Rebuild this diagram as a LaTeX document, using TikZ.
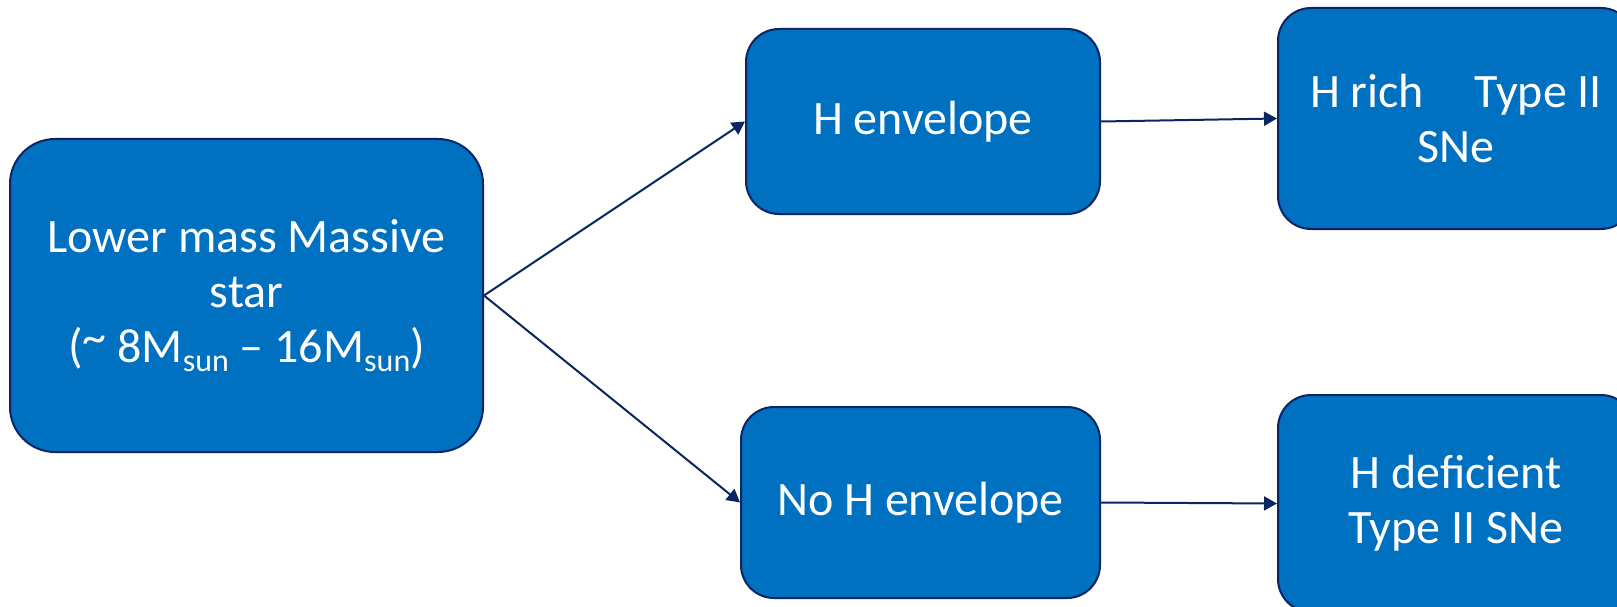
\documentclass[tikz,border=0pt]{standalone}
\usepackage{fontspec}
\setmainfont{Carlito}
\usetikzlibrary{arrows.meta}
\definecolor{boxfill}{RGB}{0,112,192}
\definecolor{navy}{RGB}{10,38,98}
\newcommand{\subsun}{\raisebox{-9pt}{\fontsize{32}{32}\selectfont sun}}
\newcommand{\hightilde}{\raisebox{9pt}{\textasciitilde}}
\begin{document}
\begin{tikzpicture}[x=1pt,y=-1pt,
  stagebox/.style={draw=navy, line width=2pt, fill=boxfill, text=white,
    rectangle, rounded corners=33pt, inner sep=0pt, align=center,
    font=\fontsize{48}{55}\selectfont},
  flow/.style={draw=navy, line width=2pt,
    -{Triangle[length=13pt,width=14pt]}}]
\useasboundingbox (0,0) rectangle (1617,607);
\fill[white] (0,0) rectangle (1617,607);

% progenitor
\node[stagebox, rounded corners=45pt, minimum width=473pt, minimum height=313pt]
  (star) at (246.5,295.5)
  {Lower mass Massive\\star\\(\hightilde{} 8M\subsun{} -- 16M\subsun)};

% envelope states
\node[stagebox, minimum width=354pt, minimum height=185pt]
  (henv) at (923,121.5) {H envelope};
\node[stagebox, minimum width=359pt, minimum height=191pt]
  (noenv) at (920.5,502.5) {No H envelope};

% supernova outcomes
\node[stagebox, minimum width=356pt, minimum height=221pt]
  (rich) at (1456,118.5) {H rich\hspace{40pt} Type II\\SNe};
\node[stagebox, minimum width=356pt, minimum height=217pt]
  (deficient) at (1456,503.5) {H deficient\\Type II SNe};

% connectors
\draw[flow] (star.east) -- (henv.west);
\draw[flow] (star.east) -- (noenv.west);
\draw[flow] (henv.east) -- (rich.west);
\draw[flow] (noenv.east) -- (deficient.west);
\end{tikzpicture}
\end{document}
